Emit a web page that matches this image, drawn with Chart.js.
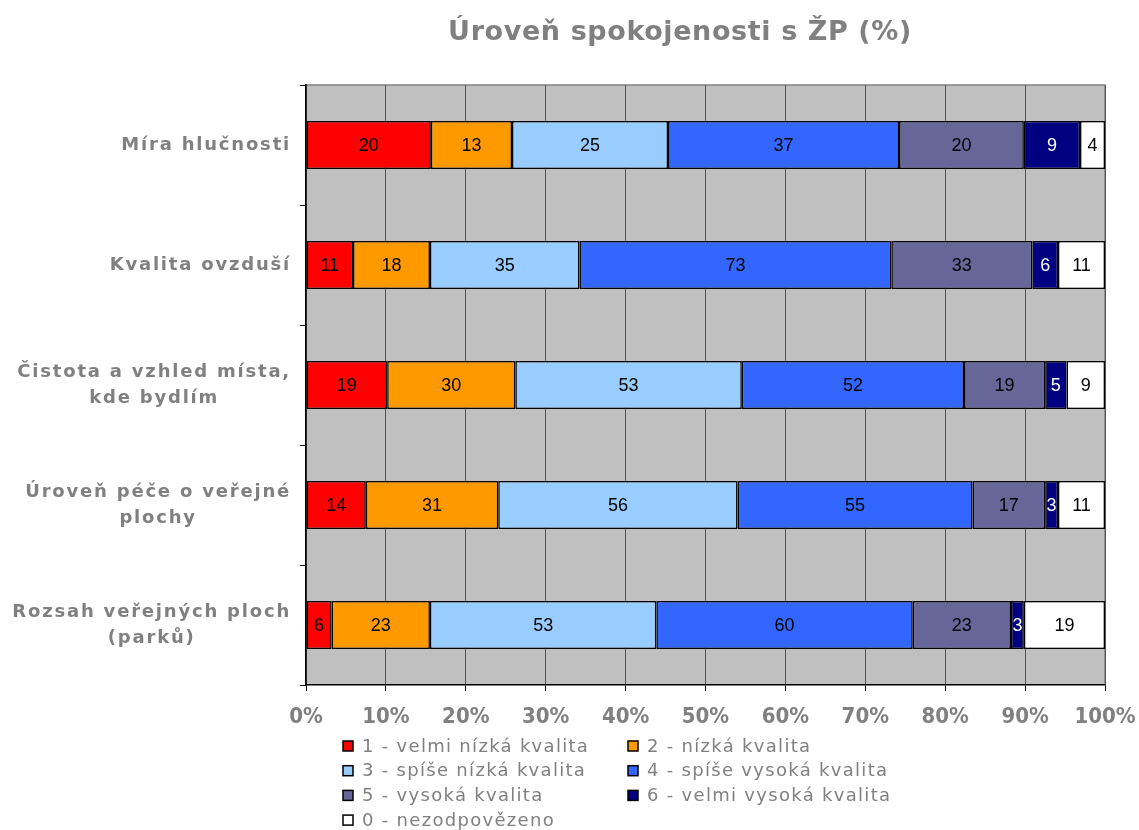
<!DOCTYPE html>
<html>
<head>
<meta charset="utf-8">
<script src="https://cdn.jsdelivr.net/npm/chart.js@4/dist/chart.umd.min.js"></script>
<style>
  html, body { margin: 0; padding: 0; background: #fff; }
  #wrap { width: 1139px; height: 830px; position: relative; }
</style>
</head>
<body>
<div id="wrap"><canvas id="chart" width="1139" height="830"></canvas></div>
<script>
const categories = [
  ['Míra hlučnosti'],
  ['Kvalita ovzduší'],
  ['Čistota a vzhled místa,', 'kde bydlím'],
  ['Úroveň péče o veřejné', 'plochy'],
  ['Rozsah veřejných ploch', '(parků)'],
];
const seriesNames = [
  '1 - velmi nízká kvalita',
  '2 - nízká kvalita',
  '3 - spíše nízká kvalita',
  '4 - spíše vysoká kvalita',
  '5 - vysoká kvalita',
  '6 - velmi vysoká kvalita',
  '0 - nezodpovězeno',
];
const s1 = [20, 11, 19, 14, 6];
const s2 = [13, 18, 30, 31, 23];
const s3 = [25, 35, 53, 56, 53];
const s4 = [37, 73, 52, 55, 60];
const s5 = [20, 33, 19, 17, 23];
const s6 = [9, 6, 5, 3, 3];
const s0 = [4, 11, 9, 11, 19];
const xTicks = [0, 10, 20, 30, 40, 50, 60, 70, 80, 90, 100];

const colors = ['#FF0000', '#FF9900', '#99CCFF', '#3366FF', '#666699', '#000080', '#FFFFFF'];
const labelColors = ['#000', '#000', '#000', '#000', '#000', '#fff', '#000'];
const raw = [s1, s2, s3, s4, s5, s6, s0];

// share of each answer in a row (100 % stacked bars)
const totals = categories.map((c, i) => raw.reduce((sum, s) => sum + s[i], 0));

const GREY = '#808080';

const plotBg = {
  id: 'plotBg',
  beforeDraw(chart) {
    const { ctx, chartArea: a } = chart;
    ctx.save();
    ctx.fillStyle = '#C0C0C0';
    ctx.fillRect(a.left, a.top, a.right - a.left, a.bottom - a.top);
    ctx.strokeStyle = GREY;
    ctx.lineWidth = 1.5;
    ctx.beginPath();
    ctx.moveTo(a.left, a.top);
    ctx.lineTo(a.right, a.top);
    ctx.lineTo(a.right, a.bottom);
    ctx.stroke();
    ctx.restore();
  },
};

const texts = {
  id: 'texts',
  afterDraw(chart) {
    const { ctx, chartArea: a } = chart;
    const y = chart.scales.y;
    ctx.save();
    ctx.letterSpacing = '0.6px';
    ctx.fillStyle = GREY;
    ctx.textAlign = 'center';
    ctx.textBaseline = 'middle';
    ctx.font = 'bold 27px "DejaVu Sans"';
    ctx.fillText('Úroveň spokojenosti s ŽP (%)', 680, 33);

    // category labels, block right aligned, lines centred
    ctx.font = 'bold 18px "DejaVu Sans"';
    ctx.letterSpacing = '1.8px';
    categories.forEach((lines, i) => {
      const cy = y.getPixelForValue(i);
      const w = Math.max(...lines.map(l => ctx.measureText(l).width));
      const cx = a.left - 15 - w / 2;
      lines.forEach((l, j) => {
        ctx.fillText(l, cx, cy + (j - (lines.length - 1) / 2) * 26);
      });
    });

    // values inside bars
    ctx.letterSpacing = '0px';
    ctx.font = '18px "Liberation Sans"';
    chart.data.datasets.forEach((ds, di) => {
      chart.getDatasetMeta(di).data.forEach((bar, i) => {
        const p = bar.getProps(['x', 'y', 'base'], true);
        ctx.fillStyle = labelColors[di];
        ctx.fillText(String(raw[di][i]), (p.x + p.base) / 2, p.y + 1);
      });
    });

    // legend in two columns
    ctx.font = '18px "DejaVu Sans"';
    ctx.letterSpacing = '1.3px';
    ctx.textAlign = 'left';
    chart.data.datasets.forEach((ds, di) => {
      const col = di % 2, row = Math.floor(di / 2);
      const lx = 343 + col * 285, ly = 746 + row * 24.7;
      ctx.fillStyle = ds.backgroundColor;
      ctx.fillRect(lx, ly - 5, 10, 10);
      ctx.strokeStyle = '#000';
      ctx.lineWidth = 1.5;
      ctx.strokeRect(lx, ly - 5, 10, 10);
      ctx.fillStyle = GREY;
      ctx.fillText(ds.label, lx + 19, ly + 1);
    });
    ctx.restore();
  },
};

new Chart(document.getElementById('chart'), {
  type: 'bar',
  data: {
    labels: categories.map(c => c.join(' ')),
    datasets: raw.map((s, di) => ({
      label: seriesNames[di],
      data: s.map((v, i) => v / totals[i] * 100),
      backgroundColor: colors[di],
      borderColor: '#000',
      borderWidth: 1.5,
      borderSkipped: false,
      categoryPercentage: 0.4,
      barPercentage: 1,
    })),
  },
  options: {
    indexAxis: 'y',
    responsive: false,
    animation: false,
    layout: { padding: { left: 290, right: 34, top: 85, bottom: 105 } },
    plugins: {
      legend: { display: false },
      title: { display: false },
      tooltip: { enabled: false },
    },
    scales: {
      x: {
        stacked: true,
        min: 0,
        max: 100,
        afterBuildTicks: (scale) => { scale.ticks = xTicks.map(v => ({ value: v })); },
        afterFit: (scale) => {
          scale.height = 40;
          scale.paddingLeft = 0;
          scale.paddingRight = 0;
        },
        border: { color: '#000', width: 1.5 },
        grid: { color: '#555', lineWidth: 1, tickColor: '#000', tickLength: 6 },
        ticks: {
          padding: 13,
          color: GREY,
          font: { family: '"DejaVu Sans Condensed"', weight: 'bold', size: 22 },
          callback: (v) => v + '%',
        },
      },
      y: {
        stacked: true,
        afterFit: (scale) => { scale.width = 16; },
        border: { color: '#000', width: 1.5 },
        grid: { drawOnChartArea: false, tickColor: '#000', tickLength: 6, offset: true },
        ticks: { display: false },
      },
    },
  },
  plugins: [plotBg, texts],
});
</script>
</body>
</html>
